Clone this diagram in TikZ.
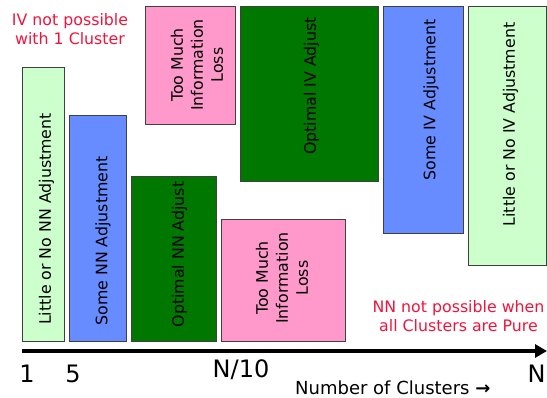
\documentclass[tikz,border=0pt]{standalone}
\usepackage{fontspec}
\setmainfont{DejaVu Sans}
\usetikzlibrary{shapes, arrows.meta}
\definecolor{paleGreen}{RGB}{204,255,204}
\definecolor{midBlue}{RGB}{102,140,255}
\definecolor{darkGreen}{RGB}{0,120,0}
\definecolor{softPink}{RGB}{255,153,204}
\definecolor{noteRed}{RGB}{240,20,60}
\tikzstyle{bar} = [draw=black!75, line width=0.9pt, rectangle, inner sep=0pt, outer sep=0pt]
\tikzstyle{barText} = [rotate=90, align=center, inner sep=0pt, font=\fontsize{15.8}{20}\selectfont]

\begin{document}
\begin{tikzpicture}[x=1pt, y=-1pt, >={Triangle[length=12pt, width=13pt]}]
    % 样式定义
    \tikzstyle{note} = [text=noteRed, align=center, inner sep=0pt, font=\fontsize{15.8}{19}\selectfont]
    \tikzstyle{tick} = [anchor=base, inner sep=0pt, font=\fontsize{24}{28}\selectfont]
    \useasboundingbox (0,0) rectangle (547,398);

    % NN bars
    \node [bar, fill=paleGreen, minimum width=42pt, minimum height=274pt] (nnLittle) at (43,204) {};
    \node [bar, fill=midBlue, minimum width=57pt, minimum height=226pt] (nnSome) at (97.5,228) {};
    \node [bar, fill=darkGreen, minimum width=85pt, minimum height=165pt] (nnOpt) at (173.5,258.5) {};
    \node [bar, fill=softPink, minimum width=124pt, minimum height=122pt] (nnLoss) at (283,280) {};

    % IV bars
    \node [bar, fill=softPink, minimum width=90pt, minimum height=118pt] (ivLoss) at (190,65) {};
    \node [bar, fill=darkGreen, minimum width=138pt, minimum height=175pt] (ivOpt) at (309,93.5) {};
    \node [bar, fill=midBlue, minimum width=80pt, minimum height=227pt] (ivSome) at (423,119.5) {};
    \node [bar, fill=paleGreen, minimum width=78pt, minimum height=259pt] (ivLittle) at (507,135.5) {};

    % bar labels
    \node [barText] (nnLittleT) at (46.5,219) {Little or No NN Adjustment};
    \node [barText] (nnSomeT) at (103,241) {Some NN Adjustment};
    \node [barText] (nnOptT) at (179.5,254.5) {Optimal NN Adjust};
    \node [barText] (nnLossT) at (282,278) {Too Much\\Information\\Loss};
    \node [barText] (ivLossT) at (197,65) {Too Much\\Information\\Loss};
    \node [barText] (ivOptT) at (311.5,86) {Optimal IV Adjust};
    \node [barText] (ivSomeT) at (431,100) {Some IV Adjustment};
    \node [barText] (ivLittleT) at (510.5,124.5) {Little or No IV Adjustment};

    % notes
    \node [note] (ivNote) at (70,29.5) {IV not possible\\with 1 Cluster};
    \node [note] (nnNote) at (458.5,316.5) {NN not possible when\\all Clusters are Pure};

    % axis
    \coordinate (axisL) at (22,351);
    \coordinate (axisR) at (547,351);
    \draw [->, line width=4.5pt] (axisL) -- (axisR);
    \node [tick] (one) at (27,383) {1};
    \node [tick] (five) at (73,383) {5};
    \node [tick] (tenth) at (241,378) {N/10};
    \node [tick] (all) at (536.5,383) {N};
    \node [anchor=base west, inner sep=0pt, font=\fontsize{18}{22}\selectfont] (axisName) at (295,395) {Number of Clusters {\bfseries →}};
\end{tikzpicture}
\end{document}
